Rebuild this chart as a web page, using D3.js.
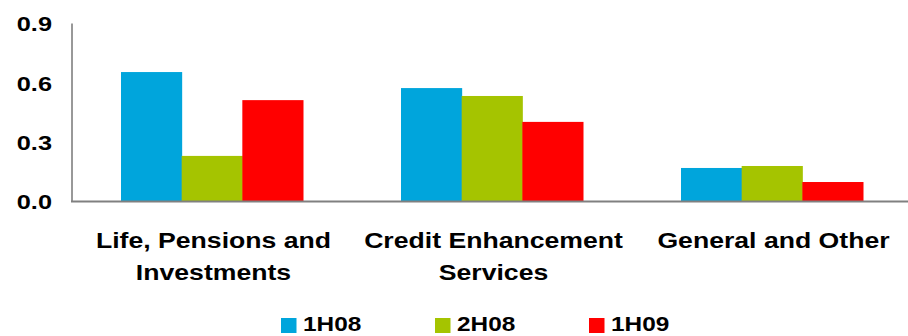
<!DOCTYPE html>
<html>
<head>
<meta charset="utf-8">
<script src="https://cdn.jsdelivr.net/npm/d3@7"></script>
<style>
  html, body { margin: 0; padding: 0; background: #fff; }
  svg { display: block; }
  text { font-family: "Liberation Sans", Arial, sans-serif; font-weight: bold; fill: #000; }
</style>
</head>
<body>
<svg id="chart" width="908" height="336"></svg>
<script>
// Segments and their two-line labels
const categories = ["Life, Pensions and Investments", "Credit Enhancement Services", "General and Other"];
const categoryLines = [["Life, Pensions and", "Investments"], ["Credit Enhancement", "Services"], ["General and Other"]];

// Half-year series
const seriesNames = ["1H08", "2H08", "1H09"];
const seriesColors = ["#00A5DC", "#A5C400", "#FF0000"];
const values1H08 = [0.652, 0.571, 0.167];
const values2H08 = [0.228, 0.531, 0.177];
const values1H09 = [0.51, 0.40, 0.096];
const seriesValues = [values1H08, values2H08, values1H09];

const yTicks = [0, 0.3, 0.6, 0.9];

const svg = d3.select("#chart");
const plot = { left: 72, right: 912, top: 23, bottom: 201 };
const widen = 1.25; // horizontal stretch of the bold lettering

const x0 = d3.scaleBand()
  .domain(categories)
  .range([plot.left, plot.right])
  .paddingInner(0.35)
  .paddingOuter(0.175);

const x1 = d3.scaleBand()
  .domain(seriesNames)
  .range([0, x0.bandwidth()]);

const y = d3.scaleLinear().domain([0, 0.9]).range([plot.bottom, plot.top]);

// Bars
const groups = svg.append("g").selectAll("g")
  .data(categories)
  .join("g")
  .attr("transform", d => `translate(${x0(d)},0)`);

groups.selectAll("rect")
  .data((d, i) => seriesNames.map((s, j) => ({ s, v: seriesValues[j][i], c: seriesColors[j] })))
  .join("rect")
  .attr("x", d => x1(d.s))
  .attr("y", d => y(d.v))
  .attr("width", x1.bandwidth() + 0.5)
  .attr("height", d => y(0) - y(d.v))
  .attr("fill", d => d.c);

// Y axis
const yAxis = svg.append("g")
  .attr("transform", `translate(${plot.left - 0.5},0)`)
  .call(d3.axisLeft(y).tickValues(yTicks).tickFormat(d3.format(".1f")).tickSize(0).tickPadding(15));
yAxis.select(".domain").attr("stroke", "#333").attr("stroke-width", 1);
yAxis.selectAll("text")
  .attr("font-size", 19.5)
  .attr("font-family", "Liberation Sans, Arial, sans-serif")
  .attr("font-weight", "bold")
  .attr("fill", "#000")
  .attr("dy", "0.4em")
  .attr("transform", "scale(1.3,1)");

// Baseline
svg.append("line")
  .attr("x1", plot.left - 1).attr("x2", 908)
  .attr("y1", y(0) + 0.5).attr("y2", y(0) + 0.5)
  .attr("stroke", "#808080").attr("stroke-width", 2);

// Category labels
categories.forEach((c, i) => {
  const cx = x0(c) + x0.bandwidth() / 2 + 1.5;
  const t = svg.append("text")
    .attr("transform", `translate(${cx},247.5) scale(${widen},1)`)
    .attr("text-anchor", "middle")
    .attr("font-size", 21.3);
  categoryLines[i].forEach((line, k) => {
    t.append("tspan")
      .attr("x", 0)
      .attr("dy", k === 0 ? 0 : 32.5)
      .text(line);
  });
});

// Legend
const legendX = [281, 435, 589];
const legend = svg.append("g").selectAll("g")
  .data(seriesNames)
  .join("g")
  .attr("transform", (d, i) => `translate(${legendX[i]},318)`);
legend.append("rect")
  .attr("width", 15.5).attr("height", 15)
  .attr("fill", (d, i) => seriesColors[i]);
legend.append("text")
  .attr("transform", `translate(22,13) scale(${widen},1)`)
  .attr("font-size", 19.5)
  .text(d => d);
</script>
</body>
</html>
